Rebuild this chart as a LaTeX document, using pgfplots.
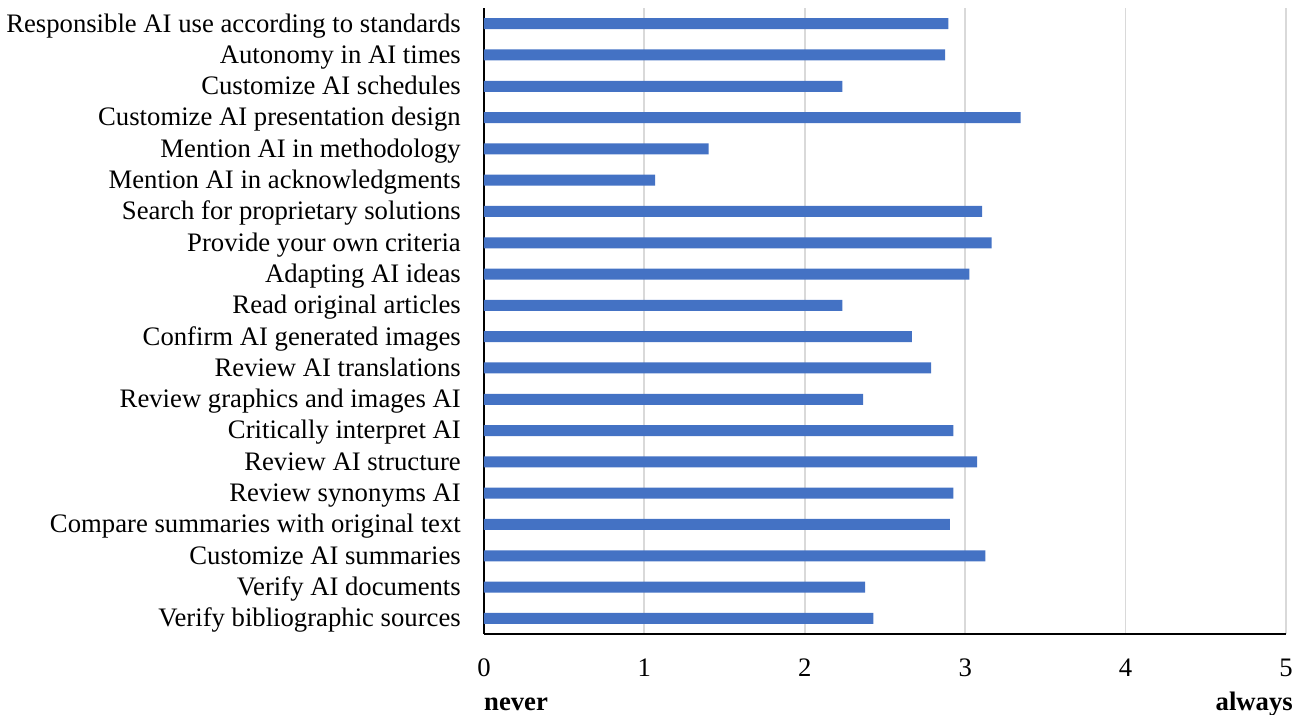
\documentclass[border=0pt]{standalone}
\usepackage{fontspec}
\setmainfont{Liberation Serif}
\usepackage{pgfplots}
\pgfplotsset{compat=1.18}
\definecolor{barblue}{HTML}{4472C4}
\definecolor{gridgray}{HTML}{D9D9D9}
\begin{document}
\fontsize{26.7bp}{31bp}\selectfont
\begin{tikzpicture}
\path[use as bounding box] (-484bp,-81bp) rectangle (820bp,634bp);
\begin{axis}[
  scale only axis,
  width=802bp, height=626bp,
  xbar, bar width=11bp,
  y dir=reverse,
  xmin=0, xmax=5, ymin=-0.5, ymax=19.5,
  xtick={0,1,2,3,4,5},
  ytick={0,...,19},
  yticklabels={Responsible AI use according to standards, Autonomy in AI times, Customize AI schedules, Customize AI presentation design, Mention AI in methodology, Mention AI in acknowledgments, Search for proprietary solutions, Provide your own criteria, Adapting AI ideas, Read original articles, Confirm AI generated images, Review AI translations, Review graphics and images AI, Critically interpret AI, Review AI structure, Review synonyms AI, Compare summaries with original text, Customize AI summaries, Verify AI documents, Verify bibliographic sources},
  axis x line*=bottom, axis y line*=left,
  x axis line style={black, line width=2bp, -},
  y axis line style={black, line width=1.3bp, -},
  major tick length=0pt,
  xmajorgrids, major grid style={gridgray, line width=1.8bp},
  /pgf/number format/assume math mode=true,
  tick label style={font=\fontsize{26.7bp}{31bp}\selectfont},
  xticklabel style={anchor=base, inner sep=0pt, yshift=-42bp},
  yticklabel style={anchor=east, inner sep=0pt, xshift=-23bp, yshift=-2.5bp, text height=17.6bp, text depth=5.8bp},
  clip=false,
]
\addplot[fill=barblue, draw=none] coordinates {
(2.895,0) (2.875,1) (2.235,2) (3.346,3) (1.40,4) (1.067,5) (3.105,6) (3.165,7) (3.026,8) (2.235,9)
(2.667,10) (2.787,11) (2.363,12) (2.926,13) (3.074,14) (2.926,15) (2.905,16) (3.126,17) (2.376,18) (2.428,19)};
\node[anchor=base west, inner sep=0pt, font=\bfseries] at (rel axis cs:0,0) [yshift=-76bp] {never};
\node[anchor=base east, inner sep=0pt, font=\bfseries] at (rel axis cs:1,0) [yshift=-76bp, xshift=7bp] {always};
\end{axis}
\end{tikzpicture}
\end{document}
